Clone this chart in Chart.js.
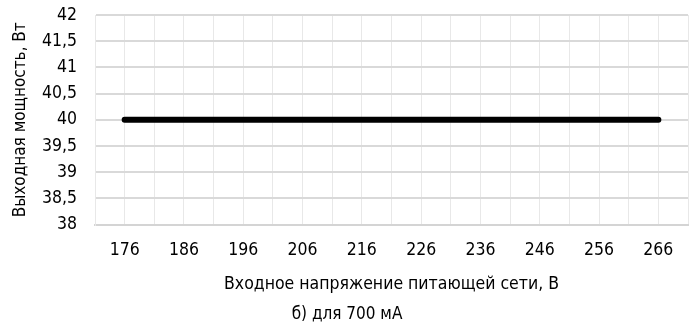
<!DOCTYPE html>
<html>
<head>
<meta charset="utf-8">
<script src="https://cdn.jsdelivr.net/npm/chart.js@4/dist/chart.umd.min.js"></script>
<style>
  html, body { margin: 0; padding: 0; background: #fff; }
  #wrap { width: 694px; height: 327px; }
</style>
</head>
<body>
<div id="wrap"><canvas id="myChart"></canvas></div>
<script>
// напряжение сети, В
const voltages = [176, 186, 196, 206, 216, 226, 236, 246, 256, 266];
// выходная мощность, Вт
const power = [40, 40, 40, 40, 40, 40, 40, 40, 40, 40];
const yTicks = [38, 38.5, 39, 39.5, 40, 40.5, 41, 41.5, 42];

const font = '"DejaVu Sans Condensed", "DejaVu Sans", sans-serif';
const ctx = document.getElementById('myChart').getContext('2d');

const points = voltages.map((v, i) => ({ x: v, y: power[i] }));

const myChart = new Chart(ctx, {
    type: 'line',
    data: {
        datasets: [{
            data: points,
            borderColor: '#000000',
            borderWidth: 6,
            borderCapStyle: 'round',
            pointRadius: 0,
            tension: 0
        }]
    },
    options: {
        responsive: true,
        maintainAspectRatio: false,
        animation: false,
        layout: { padding: { left: 6, right: 6, top: 15, bottom: 2 } },
        plugins: {
            legend: { display: false },
            tooltip: { enabled: false },
            title: {
                display: true,
                position: 'bottom',
                text: 'б) для 700 мА',
                color: '#000',
                font: { family: font, size: 17, weight: 'normal' },
                padding: { top: 10, bottom: 0 }
            }
        },
        scales: {
            x: {
                type: 'linear',
                min: voltages[0] - 5,
                max: voltages[voltages.length - 1] + 5,
                afterBuildTicks: (axis) => {
                    const t = [];
                    for (let v = voltages[0] - 5; v <= voltages[voltages.length - 1] + 5; v += 5) t.push({ value: v });
                    axis.ticks = t;
                },
                afterFit: (s) => { s.paddingLeft = 0; s.paddingRight = 0; },
                ticks: {
                    autoSkip: false,
                    maxRotation: 0,
                    color: '#000',
                    padding: 15,
                    font: { family: font, size: 17.5 },
                    callback: (v) => voltages.includes(v) ? String(v) : ''
                },
                grid: { color: '#e8e8e8', lineWidth: 1, drawTicks: false },
                border: { color: '#d4d4d4', width: 2 },
                title: {
                    display: true,
                    text: 'Входное напряжение питающей сети, В',
                    color: '#000',
                    font: { family: font, size: 17.5 },
                    padding: { top: -2, bottom: 0 }
                }
            },
            y: {
                min: 38,
                max: 42,
                afterBuildTicks: (axis) => {
                    axis.ticks = yTicks.map(v => ({ value: v }));
                },
                afterFit: (s) => { s.width = 89; s.paddingTop = 10; s.paddingBottom = 10; },
                ticks: {
                    autoSkip: false,
                    color: '#000',
                    padding: 18,
                    font: { family: font, size: 17.5 },
                    callback: (v) => String(v).replace('.', ',')
                },
                grid: { color: '#d9d9d9', lineWidth: 2, drawTicks: false },
                border: { color: '#e8e8e8', width: 1 },
                title: {
                    display: true,
                    text: 'Выходная мощность, Вт',
                    color: '#000',
                    font: { family: font, size: 17 },
                    padding: { top: 4, bottom: 0 }
                }
            }
        }
    }
});
</script>
</body>
</html>
